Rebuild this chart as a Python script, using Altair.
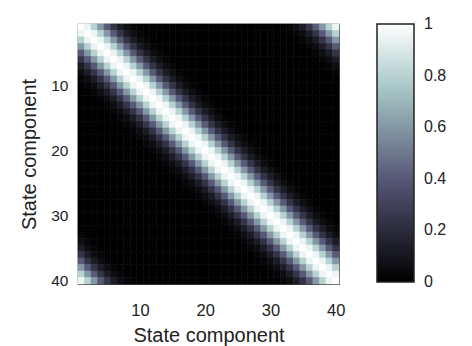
import altair as alt
import pandas as pd

# correlation value vs. circular distance between state components
n_states = 40
dist_values = [1.0, 0.95, 0.80, 0.60, 0.40, 0.24, 0.13, 0.06, 0.03, 0.01,
               0.0, 0.0, 0.0, 0.0, 0.0, 0.0, 0.0, 0.0, 0.0, 0.0, 0.0]
tick_values = [10, 20, 30, 40]
# end labels nudged a hair inside the range so they stay centred on the bar ends
legend_values = [0.001, 0.2, 0.4, 0.6, 0.8, 0.999]

rows = []
for i in range(1, n_states + 1):
    for j in range(1, n_states + 1):
        d = abs(i - j)
        d = min(d, n_states - d)
        rows.append({"row": i, "col": j, "x0": j - 0.5, "x1": j + 0.5,
                     "y0": i - 0.5, "y1": i + 0.5, "value": dist_values[d]})
df = pd.DataFrame(rows)

font = "Liberation Sans"
txt = "#222222"
bone_colors = ["#000000", "#515171", "#A6C6C6", "#FFFFFF"]

chart = alt.Chart(df).transform_calculate(
    pct="datum.value * 100"
).mark_rect(strokeWidth=0.6).encode(
    x=alt.X("x0:Q", scale=alt.Scale(domain=[0.5, 40.5], nice=False, zero=False),
            axis=alt.Axis(values=tick_values, title="State component", grid=False,
                          ticks=False, domain=False, labelPadding=18, labelFontSize=16.5,
                          titleFontSize=20, titlePadding=7, labelFont=font, titleFont=font,
                          labelColor=txt, titleColor=txt, titleFontWeight="normal")),
    x2="x1:Q",
    y=alt.Y("y0:Q", scale=alt.Scale(domain=[0.5, 40.5], nice=False, zero=False, reverse=True),
            axis=alt.Axis(values=tick_values, title="State component", grid=False,
                          ticks=False, domain=False, labelPadding=10, labelFontSize=15.5,
                          titleFontSize=20, titlePadding=11, labelFont=font, titleFont=font,
                          labelColor=txt, titleColor=txt, titleFontWeight="normal")),
    y2="y1:Q",
    color=alt.Color("value:Q",
                    scale=alt.Scale(domain=[0, 0.375, 0.75, 1], range=bone_colors,
                                    interpolate="rgb"),
                    legend=alt.Legend(type="gradient", orient="none", legendX=299, legendY=0,
                                      direction="vertical", gradientLength=258,
                                      gradientThickness=37, values=legend_values,
                                      labelExpr="format(round(datum.value * 10) / 10, '~g')",
                                      labelFontSize=16, labelFont=font,
                                      labelColor=txt, labelOffset=10,
                                      gradientStrokeColor="#222222",
                                      gradientStrokeWidth=1.5),
                    title=None),
    stroke=alt.Stroke("pct:Q",
                      scale=alt.Scale(domain=[0, 37.5, 75, 100], range=bone_colors,
                                      interpolate="rgb"),
                      legend=None),
).properties(
    width=261, height=260,
    autosize=alt.AutoSizeParams(type="none"),
    padding={"left": 78, "top": 24, "right": 133, "bottom": 62},
).configure_view(stroke="#444444", strokeWidth=1.2)

chart.save("out.html", embed_options={"renderer": "svg", "actions": False})
